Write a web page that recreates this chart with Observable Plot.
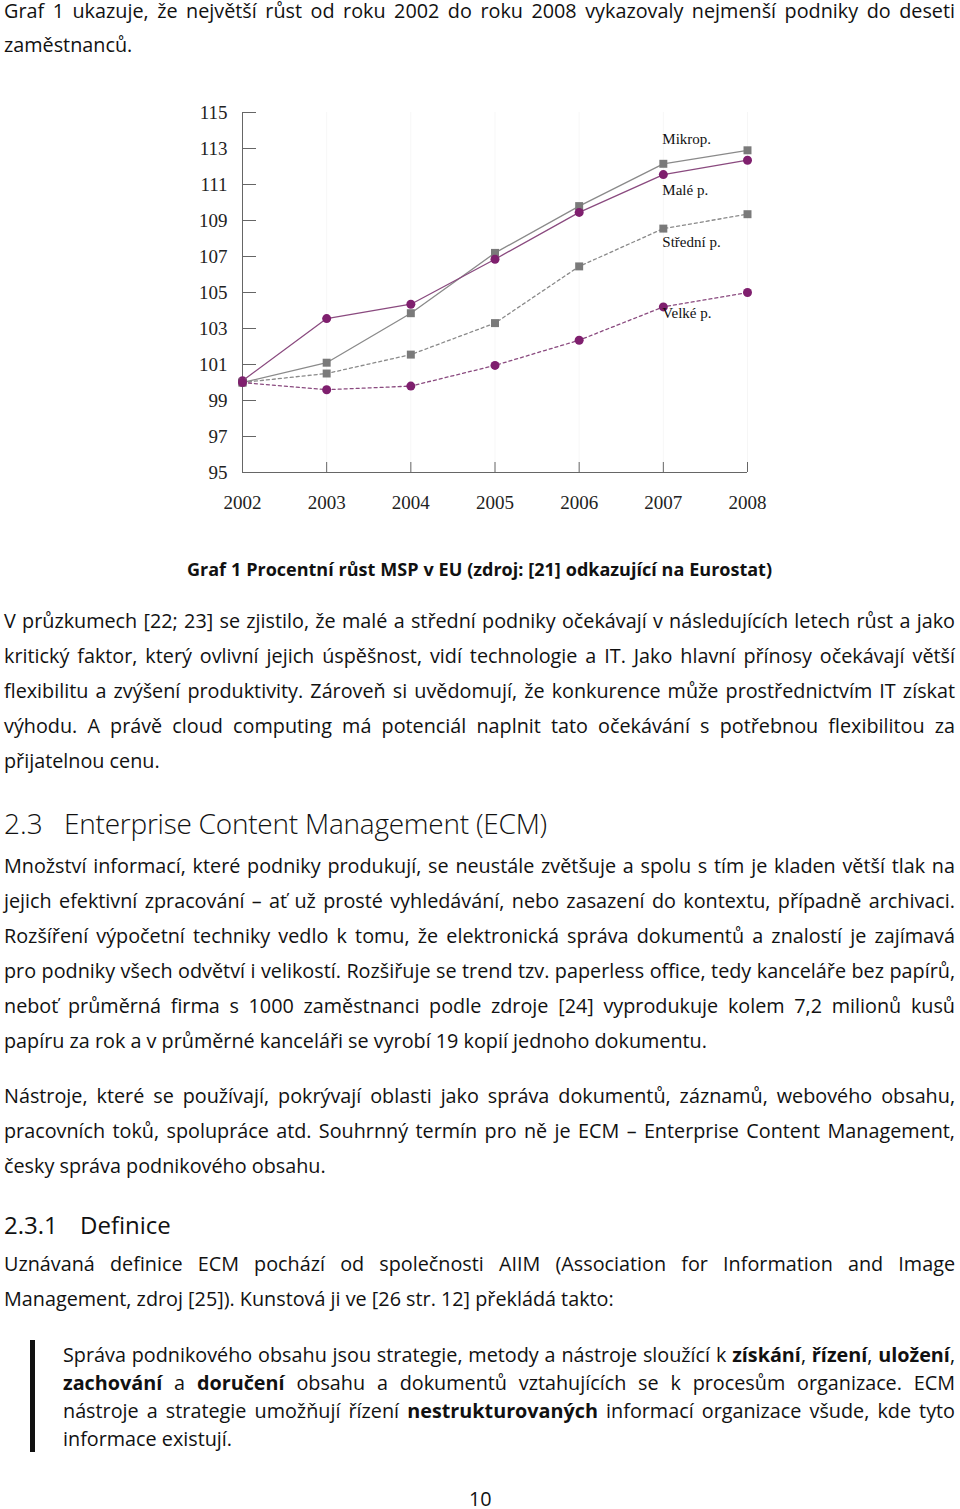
<!DOCTYPE html>
<html><head><meta charset="utf-8">
<script src="https://cdn.jsdelivr.net/npm/d3@7"></script>
<script src="https://cdn.jsdelivr.net/npm/@observablehq/plot@0.6"></script>
<style>
html,body{margin:0;padding:0;background:#fff;}
body{width:960px;height:1509px;position:relative;overflow:hidden;font-family:"Open Sans","Noto Sans",sans-serif;color:#111;}
.ln{position:absolute;white-space:nowrap;font-size:19.8px;line-height:30px;height:30px;}
.j{text-align:justify;text-align-last:justify;}
.cap{font-weight:700;font-size:18px;}
.h1{font-size:28px;font-weight:300;line-height:40px;height:40px;}
.h2{font-size:24px;font-weight:400;line-height:36px;height:36px;}
.pn{line-height:20px;height:20px;}
#bar{position:absolute;left:30px;top:1340px;width:5px;height:112px;background:#111;}
#chart{position:absolute;left:0;top:90px;}
</style>
</head><body>
<div id="chart"></div>
<div id="bar"></div>
<script>
// ---- chart data ----
const years = [2002, 2003, 2004, 2005, 2006, 2007, 2008];
const mikrop = [100, 101.1, 103.85, 107.2, 109.8, 112.15, 112.9];
const male = [100.1, 103.55, 104.35, 106.85, 109.45, 111.55, 112.35];
const stredni = [100, 100.5, 101.55, 103.3, 106.45, 108.55, 109.35];
const velke = [100, 99.6, 99.8, 100.95, 102.35, 104.2, 105.0];
const seriesNames = ["Mikrop.", "Malé p.", "Střední p.", "Velké p."];
const yTicks = [95, 97, 99, 101, 103, 105, 107, 109, 111, 113, 115];

const seriesValues = [mikrop, male, stredni, velke];
const rows = seriesNames.flatMap((s, i) => years.map((yr, j) => ({series: s, year: yr, value: seriesValues[i][j]})));

const styles = {
  "Mikrop.":    {line: "#8a8a8a", dot: "#7a7a7a", dash: null,  symbol: "square", dy: -25},
  "Malé p.":    {line: "#8a4a7f", dot: "#7f1f6e", dash: null,  symbol: "circle", dy: 16},
  "Střední p.": {line: "#8a8a8a", dot: "#7a7a7a", dash: "3,3", symbol: "square", dy: 14},
  "Velké p.":   {line: "#8a4a7f", dot: "#7f1f6e", dash: "3,3", symbol: "circle", dy: 6}
};

const marks = [
  Plot.gridX(years, {stroke: "#000", strokeOpacity: 0.035}),
  Plot.ruleX([years[0]], {y1: yTicks[0], y2: yTicks[yTicks.length - 1], stroke: "#666"}),
  Plot.ruleY([yTicks[0]], {x1: years[0], x2: years[years.length - 1], stroke: "#666"}),
  Plot.axisY({ticks: yTicks, tickSize: -14, tickPadding: 29, stroke: "#666", fill: "#222"}),
  Plot.axisX({ticks: years, tickFormat: d => String(d), tickSize: -10, tickPadding: 33, stroke: "#666", fill: "#222"})
];
for (const s of seriesNames) {
  const st = styles[s];
  const d = rows.filter(r => r.series === s);
  marks.push(Plot.line(d, {x: "year", y: "value", stroke: st.line, strokeWidth: 1.3, strokeDasharray: st.dash}));
}
for (const s of seriesNames) {
  const st = styles[s];
  const d = rows.filter(r => r.series === s);
  marks.push(Plot.dot(d, {x: "year", y: "value", fill: st.dot, symbol: st.symbol, r: 4.5}));
  marks.push(Plot.text(d.filter(r => r.year === 2007), {x: "year", y: "value", text: "series", textAnchor: "start", dx: -1, dy: st.dy, fontSize: 15, fill: "#111"}));
}

const chart = Plot.plot({
  width: 960, height: 432,
  marginLeft: 242, marginRight: 213, marginTop: 22, marginBottom: 50,
  style: {fontFamily: "'Liberation Serif', serif", fontSize: "19px", background: "transparent"},
  x: {domain: [years[0], years[years.length - 1]], label: null},
  y: {domain: [yTicks[0], yTicks[yTicks.length - 1]], label: null},
  marks
});
document.getElementById("chart").appendChild(chart);

// ---- page text ----
function line(text, cy, opts = {}) {
  const el = document.createElement("div");
  el.className = "ln" + (opts.cls ? " " + opts.cls : "") + (opts.j ? " j" : "");
  const h = opts.h || 30;
  el.style.top = (cy - h / 2) + "px";
  el.style.left = (opts.left ?? 4) + "px";
  if (opts.w) el.style.width = opts.w + "px";
  el.innerHTML = text;
  document.body.appendChild(el);
  if (opts.w) {
    const m = document.createElement("span");
    m.style.cssText = "position:absolute;visibility:hidden;white-space:nowrap;";
    m.innerHTML = text;
    el.appendChild(m);
    const nat = m.getBoundingClientRect().width;
    el.removeChild(m);
    if (nat > opts.w) {
      const n = el.textContent.length;
      el.style.letterSpacing = ((opts.w - nat) / n) + "px";
    }
  }
  return el;
}
const W = 951;
line("Graf 1 ukazuje, že největší růst od roku 2002 do roku 2008 vykazovaly nejmenší podniky do deseti", 11, {w: W, j: true});
line("zaměstnanců.", 45);

line("Graf 1 Procentní růst MSP v EU (zdroj: [21] odkazující na Eurostat)", 569, {cls: "cap", left: 187, w: 585, j: true});

[
  "V průzkumech [22; 23] se zjistilo, že malé a střední podniky očekávají v následujících letech růst a jako",
  "kritický faktor, který ovlivní jejich úspěšnost, vidí technologie a IT. Jako hlavní přínosy očekávají větší",
  "flexibilitu a zvýšení produktivity. Zároveň si uvědomují, že konkurence může prostřednictvím IT získat",
  "výhodu. A právě cloud computing má potenciál naplnit tato očekávání s&nbsp;potřebnou flexibilitou za"
].forEach((t, i) => line(t, 621 + 35 * i, {w: W, j: true}));
line("přijatelnou cenu.", 761);

line("2.3", 823, {cls: "h1", h: 40});
line("Enterprise Content Management (ECM)", 823, {cls: "h1", h: 40, left: 64, w: 483, j: true});

[
  "Množství informací, které podniky produkují, se neustále zvětšuje a spolu s&nbsp;tím je kladen větší tlak na",
  "jejich efektivní zpracování – ať už prosté vyhledávání, nebo zasazení do kontextu, případně archivaci.",
  "Rozšíření výpočetní techniky vedlo k&nbsp;tomu, že elektronická správa dokumentů a znalostí je zajímavá",
  "pro podniky všech odvětví i velikostí. Rozšiřuje se trend tzv. paperless office, tedy kanceláře bez papírů,",
  "neboť průměrná firma s&nbsp;1000 zaměstnanci podle zdroje [24] vyprodukuje kolem 7,2 milionů kusů"
].forEach((t, i) => line(t, 866 + 35 * i, {w: W, j: true}));
line("papíru za rok a v průměrné kanceláři se vyrobí 19 kopií jednoho dokumentu.", 1041);

[
  "Nástroje, které se používají, pokrývají oblasti jako správa dokumentů, záznamů, webového obsahu,",
  "pracovních toků, spolupráce atd. Souhrnný termín pro ně je ECM – Enterprise Content Management,"
].forEach((t, i) => line(t, 1096 + 35 * i, {w: W, j: true}));
line("česky správa podnikového obsahu.", 1166);

line("2.3.1", 1225, {cls: "h2", h: 36});
line("Definice", 1225, {cls: "h2", h: 36, left: 80});

line("Uznávaná definice ECM pochází od společnosti AIIM (Association for Information and Image", 1264, {w: W, j: true});
line("Management, zdroj [25]). Kunstová ji ve [26 str. 12] překládá takto:", 1299);

[
  "Správa podnikového obsahu jsou strategie, metody a nástroje sloužící k&nbsp;<b>získání</b>, <b>řízení</b>, <b>uložení</b>,",
  "<b>zachování</b> a <b>doručení</b> obsahu a dokumentů vztahujících se k&nbsp;procesům organizace. ECM",
  "nástroje a strategie umožňují řízení <b>nestrukturovaných</b> informací organizace všude, kde tyto"
].forEach((t, i) => line(t, 1355 + 28 * i, {left: 63, w: 892, j: true}));
line("informace existují.", 1439, {left: 63});

line("10", 1499, {left: 469, cls: "pn", h: 20});
</script>
</body></html>
